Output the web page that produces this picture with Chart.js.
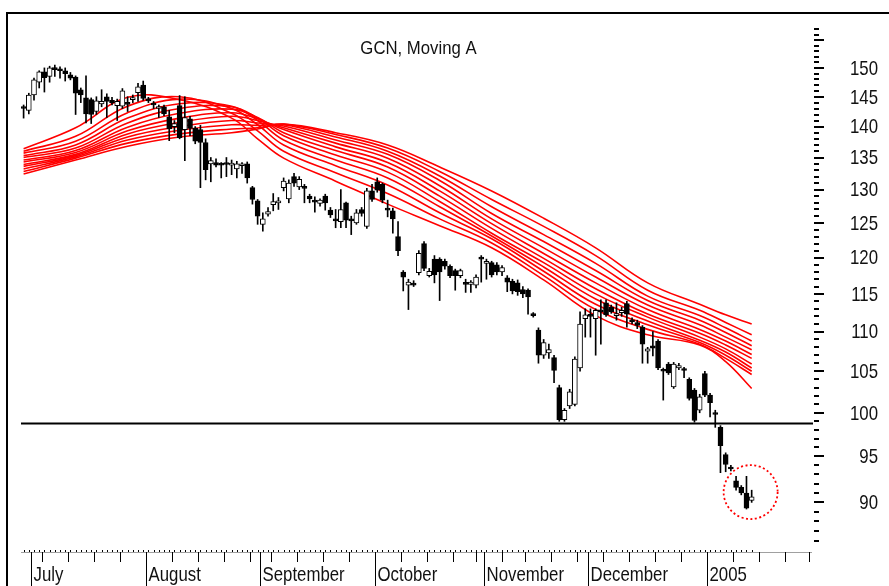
<!DOCTYPE html>
<html>
<head>
<meta charset="utf-8">
<script src="https://cdn.jsdelivr.net/npm/chart.js@4.4.1/dist/chart.umd.min.js"></script>
<style>
  html, body { margin: 0; padding: 0; background: #fff; }
</style>
</head>
<body>
<canvas id="chart" width="889" height="586"></canvas>
<script>
// Daily candles, one per trading day (index = day number)
const opens = [143.3,142.7,145.3,147.5,149.3,148.5,150.0,149.8,149.5,148.8,
  148.4,146.2,144.8,144.5,142.5,143.8,145.0,144.4,143.5,143.4,
  144.0,144.5,145.7,147.0,144.6,143.8,143.0,143.3,141.6,140.0,
  143.5,139.5,141.3,139.7,139.5,137.4,134.0,134.2,134.0,134.2,
  133.8,133.2,133.7,134.0,130.3,128.3,124.8,126.3,127.7,128.0,
  130.3,128.6,132.0,130.4,130.5,129.0,128.4,127.9,129.0,126.9,
  125.5,125.2,128.0,125.6,125.0,127.0,124.5,129.8,131.2,130.8,
  127.0,126.8,123.0,118.0,116.2,116.4,117.9,122.0,117.5,119.8,
  119.8,119.5,118.8,118.2,117.5,116.5,116.3,116.2,120.0,119.2,
  119.3,119.0,118.0,117.2,116.7,116.5,115.6,115.5,112.3,110.2,
  107.0,107.3,106.7,103.0,99.2,100.8,101.0,105.4,111.7,112.1,
  111.7,112.8,113.8,113.2,112.1,112.5,113.7,111.5,111.2,110.6,
  107.5,108.2,108.8,105.2,105.9,103.1,105.4,105.3,104.0,102.7,
  100.3,104.7,102.1,100.0,98.3,95.2,93.8,92.3,91.6,91.0,
  90.2];
const highs = [143.6,145.6,148.2,149.5,150.0,150.3,150.5,150.2,150.0,149.2,
  148.6,146.5,148.6,144.8,145.0,146.2,145.5,144.9,144.6,146.4,
  145.0,145.3,147.3,147.7,144.9,144.2,143.6,143.6,142.7,141.0,
  145.2,145.0,141.7,140.0,140.2,138.0,135.0,134.8,134.2,135.0,
  134.6,134.4,134.2,134.3,130.5,128.5,126.5,127.3,129.4,128.8,
  131.8,131.5,132.5,132.0,130.8,129.3,128.9,128.6,129.3,127.3,
  127.0,130.0,128.1,126.0,127.0,127.3,130.2,130.8,131.8,131.0,
  128.4,127.2,125.2,118.2,117.0,116.8,121.0,122.3,118.5,120.3,
  120.0,119.8,119.0,118.4,118.4,117.0,116.8,117.6,120.3,119.8,
  119.5,119.3,118.9,117.5,117.0,116.9,116.0,115.7,112.5,110.5,
  109.0,108.4,107.0,103.3,100.5,102.8,106.8,112.6,113.0,113.0,
  113.0,114.2,114.2,113.5,113.8,113.2,114.0,111.8,111.5,110.8,
  108.0,110.0,109.0,105.4,106.1,106.1,106.0,105.5,104.2,102.9,
  102.2,105.0,102.3,100.3,98.5,95.4,94.0,92.8,91.8,92.8,
  91.3];
const lows = [141.4,142.1,144.4,146.5,145.8,147.5,148.5,148.2,147.7,147.9,
  142.0,144.0,140.6,140.5,142.0,143.3,141.5,143.6,141.0,143.0,
  142.5,144.0,144.2,144.4,144.0,143.0,141.5,141.8,137.7,139.0,
  138.0,134.5,138.5,137.2,130.3,131.5,131.2,133.5,131.8,132.0,
  132.3,131.8,132.5,131.0,127.8,124.8,123.8,126.0,126.8,127.0,
  129.8,128.0,130.5,130.0,128.0,128.0,126.6,127.5,126.9,125.8,
  124.3,124.3,124.3,123.3,124.8,126.0,124.2,128.2,129.6,128.0,
  125.9,123.5,120.3,115.4,112.9,116.0,117.6,118.2,117.3,116.5,
  114.1,118.4,117.2,115.5,117.2,115.2,115.2,115.8,116.6,117.0,
  117.3,117.6,117.5,115.3,115.0,114.8,114.5,112.3,111.9,106.0,
  106.6,106.6,103.6,99.0,99.0,100.5,100.8,105.0,109.3,109.3,
  107.0,108.4,112.0,112.4,111.5,112.0,110.6,111.0,110.4,106.0,
  106.0,106.9,105.2,101.5,104.6,102.9,105.2,104.2,101.5,98.9,
  100.0,101.9,99.5,98.3,93.2,93.3,93.4,91.3,90.8,89.3,
  90.0];
const closes = [143.0,145.3,147.9,149.3,148.3,150.0,149.7,149.5,149.0,148.2,
  145.6,145.3,142.1,142.0,144.3,144.2,144.2,144.0,144.2,146.0,
  143.7,144.8,146.7,144.7,144.3,143.6,143.3,142.1,139.6,140.5,
  138.2,141.5,139.7,137.6,137.4,133.1,134.5,133.8,133.8,133.9,
  134.0,134.0,133.8,131.8,128.5,126.0,125.6,126.7,128.2,128.3,
  131.3,131.0,131.0,131.6,130.2,128.6,128.1,128.4,128.0,126.2,
  125.3,127.0,125.4,125.3,126.5,126.4,129.8,128.5,129.9,128.4,
  126.9,125.6,121.0,117.3,116.6,116.2,120.6,118.5,118.1,117.6,
  118.0,118.8,117.5,117.5,118.2,116.3,116.6,117.3,119.8,119.5,
  117.6,118.0,118.6,116.6,115.4,115.3,115.0,114.6,112.1,107.0,
  108.6,107.7,105.1,99.2,100.3,102.5,106.5,111.0,112.2,112.0,
  112.8,112.6,112.2,112.6,112.3,112.8,112.3,111.3,110.8,108.4,
  107.8,107.9,105.4,105.0,104.8,105.9,105.7,105.1,101.7,99.1,
  101.9,102.1,101.2,99.8,96.2,94.1,93.6,91.6,91.0,89.4,
  90.6];

// Moving averages, fastest first, at these day numbers
const maDays = [0, 10, 20, 30, 40, 45, 50, 60, 70, 80, 90, 100, 110, 120, 130, 135, 140];
const ma1  = [136.4,139.8,144.9,144.5,141.4,138.0,134.9,131.3,127.8,124.6,121.4,116.9,112.1,109.6,108.3,106.2,102.9];
const ma2  = [136.0,138.4,143.4,145.0,142.2,139.3,136.0,132.6,129.4,125.6,122.1,117.5,112.9,110.3,108.4,106.6,104.6];
const ma3  = [135.7,137.6,142.3,144.6,143.0,140.3,137.0,133.7,130.7,126.5,122.7,118.1,113.6,110.9,108.6,107.0,105.0];
const ma4  = [135.3,137.0,141.4,143.8,143.4,141.0,137.8,134.6,131.8,127.4,123.1,118.7,114.3,111.4,108.9,107.4,105.4];
const ma5  = [135.0,136.5,140.6,143.0,143.3,141.4,138.5,135.4,132.7,128.2,123.5,119.3,115.0,111.9,109.3,107.8,105.9];
const ma6  = [134.6,136.1,139.9,142.2,142.9,141.5,139.0,136.1,133.5,129.0,124.2,119.9,115.7,112.3,109.8,108.3,106.6];
const ma7  = [134.3,135.8,139.3,141.4,142.3,141.3,139.5,136.7,134.2,129.8,124.9,120.6,116.5,112.9,110.3,108.8,107.1];
const ma8  = [133.9,135.5,138.8,140.7,141.7,141.0,139.8,137.3,134.9,130.6,125.6,121.4,117.3,113.5,110.9,109.3,107.7];
const ma9  = [133.6,135.3,138.3,140.0,141.0,140.6,140.1,137.8,135.5,131.4,126.4,122.3,118.2,114.1,111.5,109.9,108.2];
const ma10 = [133.2,135.1,137.8,139.4,140.3,140.2,140.3,138.3,136.0,132.1,127.4,123.3,119.2,114.7,112.1,110.5,108.8];
const ma11 = [132.8,134.9,137.3,138.8,139.6,139.8,140.4,138.7,136.5,132.8,128.5,124.5,120.3,115.5,112.8,111.2,109.6];
const ma12 = [132.4,134.6,136.8,138.3,139.0,139.6,140.4,139.0,137.0,133.5,129.8,125.7,121.4,116.5,113.6,112.2,111.0];
const maLines = [ma1, ma2, ma3, ma4, ma5, ma6, ma7, ma8, ma9, ma10, ma11, ma12];

const supportLevel = 98.8;
const highlightDay = 139.8;
const highlightPrice = 91.1;

const priceTicks = [90, 95, 100, 105, 110, 115, 120, 125, 130, 135, 140, 145, 150];
const monthLabels = ['July', 'August', 'September', 'October', 'November', 'December', '2005'];
const monthStarts = [1.5, 23.5, 45.5, 67.5, 88.5, 108.5, 131.5];
const weekStarts = [3.5, 8.5, 13.5, 18.5, 23.5, 28.5, 33.5, 38.5, 43.5, 47.5, 52.5, 57.5, 62.5,
  67.5, 72.5, 77.5, 82.5, 87, 92, 96.5, 101.5, 106.5, 111.5, 116.5, 121.5, 126.5, 131.5,
  136.5, 141.5, 146.5, 151];

const FONT = "'Liberation Sans', Arial, sans-serif";

const bodies = opens.map((o, i) => ({ x: i, y: [o, closes[i]] }));
const wicks = lows.map((l, i) => ({ x: i, y: [l, highs[i]] }));
const isUp = opens.map((o, i) => closes[i] >= o);

// the original uses a narrow face, so squeeze Liberation Sans sideways
function narrowText(ctx, text, x, y, align, squeeze) {
  ctx.save();
  ctx.translate(x, y);
  ctx.scale(squeeze, 1);
  ctx.textAlign = align;
  ctx.fillText(text, 0, 0);
  ctx.restore();
}

// frame, axis marks, labels, title, support line and highlight circle
const decor = {
  id: 'decor',
  beforeDraw(chart) {
    const { ctx, chartArea: a } = chart;
    ctx.save();
    ctx.strokeStyle = '#000';
    ctx.lineWidth = 2;
    ctx.beginPath();
    ctx.moveTo(a.left - 14, chart.height);
    ctx.lineTo(a.left - 14, a.top);
    ctx.lineTo(chart.width, a.top);
    ctx.stroke();
    ctx.restore();
  },
  afterDraw(chart) {
    const { ctx, chartArea: a } = chart;
    const xs = chart.scales.x, ys = chart.scales.y;
    ctx.save();

    // support line
    const sy = Math.round(ys.getPixelForValue(supportLevel)) + 0.5;
    ctx.strokeStyle = '#000';
    ctx.lineWidth = 2;
    ctx.beginPath();
    ctx.moveTo(a.left, sy);
    ctx.lineTo(a.right + 1, sy);
    ctx.stroke();

    // bottom axis
    const base = a.bottom;
    ctx.strokeStyle = '#a0a0a0';
    ctx.lineWidth = 1;
    ctx.beginPath();
    ctx.moveTo(a.left, base + 1.5);
    ctx.lineTo(a.right, base + 1.5);
    ctx.stroke();
    ctx.fillStyle = '#000';
    opens.forEach((o, i) => {
      ctx.fillRect(Math.round(xs.getPixelForValue(i)), base - 1, 1, 2);
    });
    ctx.strokeStyle = '#000';
    ctx.beginPath();
    weekStarts.forEach(w => {
      const px = Math.round(xs.getPixelForValue(w)) + 0.5;
      ctx.moveTo(px, base + 1);
      ctx.lineTo(px, base + 11);
    });
    ctx.stroke();
    ctx.font = '21px ' + FONT;
    ctx.textBaseline = 'alphabetic';
    ctx.fillStyle = '#111';
    ctx.beginPath();
    monthStarts.forEach((m, k) => {
      const px = Math.round(xs.getPixelForValue(m)) + 0.5;
      ctx.moveTo(px, base + 1);
      ctx.lineTo(px, chart.height);
      narrowText(ctx, monthLabels[k], px + 2, chart.height - 5, 'left', 0.8);
    });
    ctx.stroke();

    // price axis ticks and labels
    ctx.lineWidth = 2;
    ctx.beginPath();
    for (let v = 86; v <= 157; v++) {
      const py = Math.round(ys.getPixelForValue(v));
      const len = v % 5 === 0 ? 10 : 5;
      ctx.moveTo(a.right + 2, py);
      ctx.lineTo(a.right + 2 + len, py);
    }
    ctx.stroke();
    ctx.font = '21px ' + FONT;
    ctx.textBaseline = 'middle';
    priceTicks.forEach(v => {
      narrowText(ctx, String(v), a.right + 66, ys.getPixelForValue(v) + 1, 'right', 0.8);
    });

    // title
    ctx.font = '18px ' + FONT;
    ctx.textBaseline = 'alphabetic';
    narrowText(ctx, 'GCN, Moving A', (a.left + a.right) / 2 + 2, a.top + 41, 'center', 0.93);

    // highlight circle
    ctx.strokeStyle = '#ff0000';
    ctx.lineWidth = 1.8;
    ctx.setLineDash([2, 2.5]);
    ctx.beginPath();
    ctx.arc(xs.getPixelForValue(highlightDay), ys.getPixelForValue(highlightPrice), 27, 0, Math.PI * 2);
    ctx.stroke();
    ctx.restore();
  }
};

const lineSets = maLines.map(vals => ({
  type: 'line',
  data: vals.map((v, k) => ({ x: maDays[k], y: v })),
  borderColor: '#ff0000',
  borderWidth: 1.6,
  pointRadius: 0,
  tension: 0.4,
  fill: false
}));

new Chart(document.getElementById('chart'), {
  type: 'bar',
  data: {
    datasets: [
      {
        data: bodies,
        backgroundColor: isUp.map(u => u ? '#ffffff' : '#000000'),
        borderColor: '#000',
        borderWidth: 1,
        borderSkipped: false,
        barThickness: 5,
        minBarLength: 2,
        grouped: false
      },
      {
        data: wicks,
        backgroundColor: '#000',
        barThickness: 1,
        grouped: false
      },
      ...lineSets
    ]
  },
  options: {
    responsive: false,
    animation: false,
    layout: { padding: { left: 21, top: 13, bottom: 35, right: 0 } },
    plugins: {
      legend: { display: false },
      tooltip: { enabled: false },
      title: { display: false }
    },
    scales: {
      x: {
        type: 'linear',
        display: false,
        offset: false,
        min: -0.5,
        max: 151.6
      },
      y: {
        type: 'logarithmic',
        position: 'right',
        min: 85,
        max: 160,
        bounds: 'data',
        grid: { display: false },
        border: { display: false },
        ticks: { display: false },
        afterFit: s => { s.width = 77; s.paddingTop = 0; s.paddingBottom = 0; }
      }
    }
  },
  plugins: [decor]
});
</script>
</body>
</html>
